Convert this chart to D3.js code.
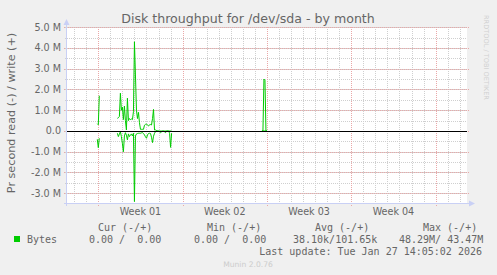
<!DOCTYPE html>
<html>
<head>
<meta charset="utf-8">
<script src="https://cdn.jsdelivr.net/npm/d3@7"></script>
<style>
  html, body { margin: 0; padding: 0; background: #f0f0f0; }
  svg { display: block; font-family: "DejaVu Sans", sans-serif; }
  .mono { font-family: "DejaVu Sans Mono", monospace; white-space: pre; }
</style>
</head>
<body>
<div id="chart"></div>
<script>
const title = 'Disk throughput for /dev/sda - by month';
const yLabel = 'Pr second read (-) / write (+)';

// visible time window (UTC)
const windowStart = '2025-12-25T09:38:00Z';
const windowEnd = '2026-01-27T14:31:00Z';

const weekStarts = ['2025-12-28', '2026-01-04', '2026-01-11', '2026-01-18', '2026-01-25'];
const weekLabels = ['Week 01', 'Week 02', 'Week 03', 'Week 04'];

const yTicks = [-3, -2, -1, 0, 1, 2, 3, 4, 5];
const yTickLabels = ['-3.0 M', '-2.0 M', '-1.0 M', '0.0', '1.0 M', '2.0 M', '3.0 M', '4.0 M', '5.0 M'];

// samples are 2 hours apart, in MB/s; each segment is surrounded by missing data
const stepHours = 2;
const segStarts = ['2025-12-27T22:00:00Z', '2025-12-29T14:00:00Z', '2026-01-10T14:00:00Z'];

const writeSeg1 = [0.35, 0.3, 1.7];
const readSeg1 = [0.4, 0.8, 0.35];

const writeSeg2 = [0.61, 0.64, 0.70, 1.82, 1.00, 1.15, 0.55, 1.20, 0.50, 0.05,
  1.58, 0.50, 0.60, 0.55, 0.58, 0.55, 0.93, 4.30, 2.70, 1.00,
  0.60, 0.90, 0.40, 0.08, 0.08, 0.08, 0.08, 0.28, 0.32, 0.34,
  0.28, 0.24, 0.30, 0.31, 0.29, 0.60, 1.04, 0.05, 0.05, 0.02,
  0, 0, 0, 0, 0, 0, 0, 0, 0, 0, 0, 0, 0, 0, 0];
const readSeg2 = [0.11, 0.27, 0.15, 0.03, 0.27, 0.60, 1.00, 0.24, 0.08, 0.20,
  0.43, 0.14, 0.27, 0.20, 0.14, 0.24, 0.11, 3.40, 0.24, 0.14,
  0.12, 0.11, 0.11, 0.11, 0.09, 0.08, 0.12, 0.19, 0.28, 0.35,
  0.19, 0.12, 0.11, 0.12, 0.30, 0.56, 0.25, 0.11, 0.03, 0,
  0, 0, 0.05, 0.08, 0.05, 0, 0, 0.05, 0.08, 0,
  0, 0, 0.11, 0.79, 0.11];

const writeSeg3 = [0, 0, 2.5, 2.45, 0, 0];
const readSeg3 = [0, 0, 0, 0, 0, 0];

const legendHeaders = ['Cur (-/+)', 'Min (-/+)', 'Avg (-/+)', 'Max (-/+)'];
const legendValues = ['0.00 /  0.00', '0.00 /  0.00', '38.10k/101.65k', '48.29M/ 43.47M'];
const lastUpdate = 'Last update: Tue Jan 27 14:05:02 2026';

const width = 497, height = 275;
const plot = { left: 67, right: 467, top: 27.25, bottom: 203 };
const green = '#00cc00';
const axisColor = '#c9d0f5';
const fontColor = '#666666';

const svg = d3.select('#chart').append('svg')
  .attr('width', width).attr('height', height);

svg.append('rect').attr('width', width).attr('height', height).attr('fill', '#f0f0f0');

const x = d3.scaleUtc()
  .domain([new Date(windowStart), new Date(windowEnd)])
  .range([plot.left, plot.right]);
const y = d3.scaleLinear()
  .domain([-3.47, 5.0])
  .range([plot.bottom, plot.top]);

const crisp = (v) => Math.round(v) + 0.5;

svg.append('rect')
  .attr('x', plot.left).attr('y', Math.floor(plot.top))
  .attr('width', plot.right - plot.left).attr('height', plot.bottom - Math.floor(plot.top))
  .attr('fill', '#ffffff');

// minor grid
const grid = svg.append('g').attr('shape-rendering', 'crispEdges');
const days = d3.utcDay.range(x.domain()[0], x.domain()[1]);
grid.selectAll('line.vminor').data(days).join('line')
  .attr('x1', (d) => crisp(x(d))).attr('x2', (d) => crisp(x(d)))
  .attr('y1', plot.top).attr('y2', plot.bottom + 2)
  .attr('stroke', '#cfcfcf').attr('stroke-dasharray', '1,1');
const halfTicks = d3.range(-6, 11).map((v) => v / 2);
grid.selectAll('line.hminor').data(halfTicks).join('line')
  .attr('x1', plot.left - 2).attr('x2', plot.right)
  .attr('y1', (d) => crisp(y(d))).attr('y2', (d) => crisp(y(d)))
  .attr('stroke', '#cfcfcf').attr('stroke-dasharray', '1,1');

// major grid
const weeks = weekStarts.map((d) => new Date(d + 'T00:00:00Z'));
grid.selectAll('line.vmajor').data(weeks).join('line')
  .attr('x1', (d) => crisp(x(d))).attr('x2', (d) => crisp(x(d)))
  .attr('y1', plot.top).attr('y2', plot.bottom + 3)
  .attr('stroke', '#eaa8a8').attr('stroke-dasharray', '1,1');
grid.selectAll('line.hmajor').data(yTicks).join('line')
  .attr('x1', plot.left - 3).attr('x2', plot.right + 2)
  .attr('y1', (d) => crisp(y(d))).attr('y2', (d) => crisp(y(d)))
  .attr('stroke', '#eaa8a8').attr('stroke-dasharray', '1,1');

// axes
svg.append('line')
  .attr('x1', plot.left - 0.5).attr('x2', plot.left - 0.5)
  .attr('y1', plot.bottom + 3).attr('y2', 22)
  .attr('stroke', axisColor);
svg.append('path')
  .attr('d', `M${plot.left - 3.5},25 L${plot.left - 0.5},19 L${plot.left + 2.5},25 Z`)
  .attr('fill', axisColor);
svg.append('line')
  .attr('x1', plot.left - 3).attr('x2', plot.right + 4)
  .attr('y1', crisp(plot.bottom)).attr('y2', crisp(plot.bottom))
  .attr('stroke', axisColor);
svg.append('path')
  .attr('d', `M${plot.right + 2},${crisp(plot.bottom) - 3} L${plot.right + 8},${crisp(plot.bottom)} L${plot.right + 2},${crisp(plot.bottom) + 3} Z`)
  .attr('fill', axisColor);

// data
const toPoints = (start, values, sign) => values.map((v, i) => ({
  t: new Date(new Date(start).getTime() + i * stepHours * 3600e3),
  v: sign * v
}));
const series = [
  toPoints(segStarts[0], writeSeg1, 1), toPoints(segStarts[0], readSeg1, -1),
  toPoints(segStarts[1], writeSeg2, 1), toPoints(segStarts[1], readSeg2, -1),
  toPoints(segStarts[2], writeSeg3, 1), toPoints(segStarts[2], readSeg3, -1)
];
const line = d3.line().x((d) => x(d.t)).y((d) => y(d.v));
svg.append('g').selectAll('path').data(series).join('path')
  .attr('d', line)
  .attr('fill', 'none').attr('stroke', green).attr('stroke-width', 1);

// zero line
svg.append('line')
  .attr('x1', plot.left).attr('x2', plot.right)
  .attr('y1', crisp(y(0))).attr('y2', crisp(y(0)))
  .attr('stroke', '#000000').attr('shape-rendering', 'crispEdges');

// y tick labels
svg.append('g').selectAll('text').data(yTicks).join('text')
  .attr('x', 61).attr('y', (d) => y(d)).attr('dy', '0.36em')
  .attr('text-anchor', 'end').attr('font-size', 9.6).attr('fill', fontColor)
  .text((d, i) => yTickLabels[i]);

// x labels, centred in each week
svg.append('g').selectAll('text').data(weekLabels).join('text')
  .attr('x', (d, i) => x(new Date((weeks[i].getTime() + weeks[i + 1].getTime()) / 2)))
  .attr('y', 215)
  .attr('text-anchor', 'middle').attr('font-size', 9.6).attr('fill', fontColor)
  .text((d) => d);

// title
svg.append('text')
  .attr('x', 248).attr('y', 23)
  .attr('text-anchor', 'middle').attr('font-size', 12.6).attr('fill', fontColor)
  .text(title);

// y label
svg.append('text')
  .attr('transform', 'translate(15,113) rotate(-90)')
  .attr('text-anchor', 'middle').attr('font-size', 11.2).attr('fill', fontColor)
  .text(yLabel);

// side watermark
svg.append('text')
  .attr('transform', 'translate(484,15) rotate(90)')
  .attr('font-size', 6.6).attr('fill', '#d0d0d0')
  .text('RRDTOOL / TOBI OETIKER');

// legend
const legend = svg.append('g').attr('class', 'mono').attr('font-size', 10).attr('fill', fontColor);
const headerX = [98, 207, 315, 423];
const valueX = [89, 194, 293, 399];
legend.selectAll('text.h').data(legendHeaders).join('text')
  .attr('x', (d, i) => headerX[i]).attr('y', 231)
  .attr('xml:space', 'preserve')
  .text((d) => d);
legend.selectAll('text.v').data(legendValues).join('text')
  .attr('x', (d, i) => valueX[i]).attr('y', 243)
  .attr('xml:space', 'preserve').style('white-space', 'pre')
  .text((d) => d);
legend.append('text').attr('x', 27).attr('y', 243).text('Bytes');
legend.append('text').attr('x', 482).attr('y', 255).attr('text-anchor', 'end').text(lastUpdate);
svg.append('rect')
  .attr('x', 14).attr('y', 236).attr('width', 6).attr('height', 6)
  .attr('fill', green);

// footer
svg.append('text')
  .attr('x', 248).attr('y', 267)
  .attr('text-anchor', 'middle').attr('font-size', 7.6).attr('fill', '#cccccc')
  .text('Munin 2.0.76');
</script>
</body>
</html>
